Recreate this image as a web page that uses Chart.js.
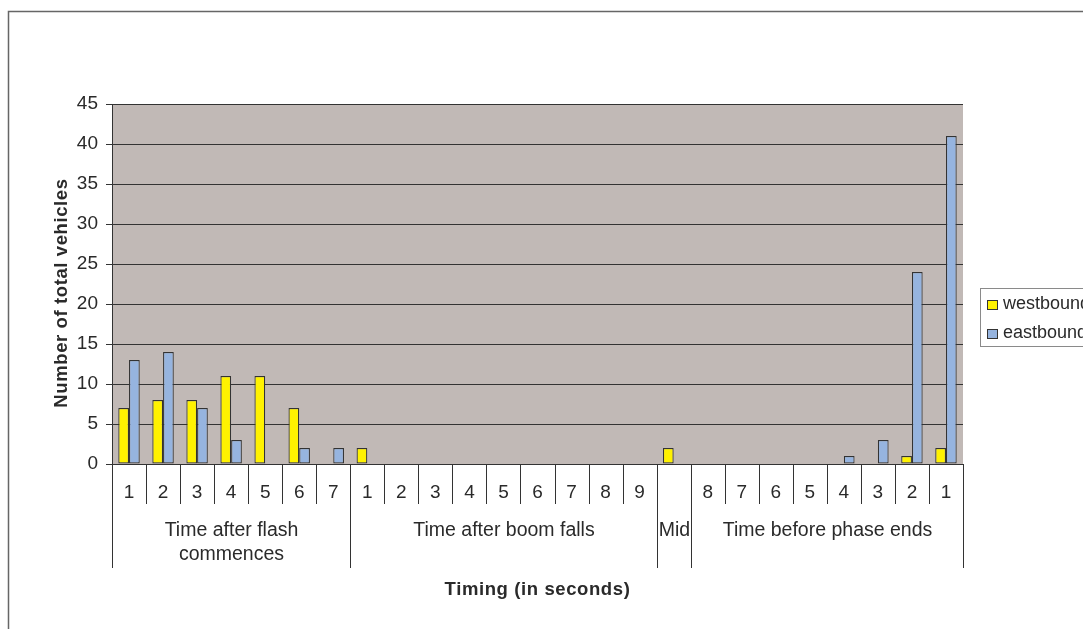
<!DOCTYPE html>
<html>
<head>
<meta charset="utf-8">
<script src="https://cdn.jsdelivr.net/npm/chart.js@4.4.1/dist/chart.umd.min.js"></script>
<style>
  html, body { margin: 0; padding: 0; background: #fff; }
  #wrap { position: relative; width: 1083px; height: 629px; overflow: hidden; }
</style>
</head>
<body>
<div id="wrap"><canvas id="timingChart" width="1083" height="629"></canvas></div>
<script>
// seconds inside each phase; the Mid slot has no number of its own
const tickLabels = ['1', '2', '3', '4', '5', '6', '7',
                    '1', '2', '3', '4', '5', '6', '7', '8', '9',
                    '',
                    '8', '7', '6', '5', '4', '3', '2', '1'];
const groupNames = [['Time after flash', 'commences'], ['Time after boom falls'], ['Mid'], ['Time before phase ends']];
const groupSizes = [7, 9, 1, 8];

const westbound = [7, 8, 8, 11, 11, 7, 0,
                   2, 0, 0, 0, 0, 0, 0, 0, 0,
                   2,
                   0, 0, 0, 0, 0, 0, 1, 2];
const eastbound = [13, 14, 7, 3, 0, 2, 2,
                   0, 0, 0, 0, 0, 0, 0, 0, 0,
                   0,
                   0, 0, 0, 0, 1, 3, 24, 41];

const yMax = 45;
const yStep = 5;

const FONT = '"Liberation Sans", Arial, sans-serif';
const TEXT = '#2a2a2a';
const LINE = '#333';
const PLOT_BG = '#c1b9b6';

// background frame, plot fill, two-level category axis, titles and legend
const excelLook = {
    id: 'excelLook',
    beforeDraw(chart) {
        const { ctx, chartArea: a } = chart;
        ctx.save();
        ctx.strokeStyle = '#666';
        ctx.lineWidth = 1.5;
        ctx.strokeRect(8.5, 11.5, 1300, 1000);
        ctx.fillStyle = PLOT_BG;
        ctx.fillRect(a.left, a.top, a.right - a.left, a.bottom - a.top);
        ctx.restore();
    },
    afterDraw(chart) {
        const { ctx } = chart;
        const x = chart.scales.x;
        const top = x.top;
        const edge = i => Math.round(x.getPixelForValue(i - 0.5)) + 0.5;

        const bounds = [0];
        groupSizes.forEach(n => bounds.push(bounds[bounds.length - 1] + n));

        ctx.save();
        ctx.strokeStyle = LINE;
        ctx.lineWidth = 1;
        for (let i = 0; i <= tickLabels.length; i++) {
            const h = bounds.includes(i) ? 104 : 40;
            ctx.beginPath();
            ctx.moveTo(edge(i), top);
            ctx.lineTo(edge(i), top + h);
            ctx.stroke();
        }

        ctx.fillStyle = TEXT;
        ctx.font = '19px ' + FONT;
        ctx.textAlign = 'center';
        ctx.textBaseline = 'middle';
        tickLabels.forEach((t, i) => {
            ctx.fillText(t, x.getPixelForValue(i), top + 29);
        });

        ctx.font = '19.5px ' + FONT;
        groupNames.forEach((lines, g) => {
            const cx = (edge(bounds[g]) + edge(bounds[g + 1])) / 2;
            lines.forEach((t, k) => ctx.fillText(t, cx, top + 67 + k * 24));
        });

        // axis titles
        ctx.font = 'bold 18.5px ' + FONT;
        ctx.letterSpacing = '0.6px';
        ctx.fillText('Timing (in seconds)', (x.left + x.right) / 2, 590);

        ctx.translate(62, 293);
        ctx.rotate(-Math.PI / 2);
        ctx.fillText('Number of total vehicles', 0, 0);
        ctx.restore();

        // legend, running off the right edge
        ctx.save();
        ctx.fillStyle = '#fff';
        ctx.fillRect(980.5, 288.5, 200, 58);
        ctx.strokeStyle = '#8a8a8a';
        ctx.lineWidth = 1;
        ctx.strokeRect(980.5, 288.5, 200, 58);
        ctx.font = '18px ' + FONT;
        ctx.textBaseline = 'middle';
        chart.data.datasets.forEach((ds, i) => {
            const y = 300.5 + i * 29;
            ctx.fillStyle = ds.backgroundColor;
            ctx.fillRect(987.5, y, 10, 9);
            ctx.strokeStyle = LINE;
            ctx.strokeRect(987.5, y, 10, 9);
            ctx.fillStyle = TEXT;
            ctx.fillText(ds.label, 1003, y + 4);
        });
        ctx.restore();
    }
};

new Chart(document.getElementById('timingChart'), {
    type: 'bar',
    data: {
        labels: tickLabels,
        datasets: [
            {
                label: 'westbound',
                data: westbound,
                backgroundColor: '#fff200',
                borderColor: LINE,
                borderWidth: 1.2,
                borderSkipped: false,
                categoryPercentage: 0.63,
                barPercentage: 1.0
            },
            {
                label: 'eastbound',
                data: eastbound,
                backgroundColor: '#96b4df',
                borderColor: LINE,
                borderWidth: 1.2,
                borderSkipped: false,
                categoryPercentage: 0.63,
                barPercentage: 1.0
            }
        ]
    },
    options: {
        responsive: false,
        animation: false,
        layout: { padding: { top: 104, right: 120, bottom: 0, left: 0 } },
        plugins: {
            legend: { display: false },
            tooltip: { enabled: false }
        },
        scales: {
            x: {
                grid: { display: false },
                border: { display: true, color: LINE, width: 1 },
                ticks: { display: false },
                afterFit: s => { s.height = 165; }
            },
            y: {
                min: 0,
                max: yMax,
                ticks: {
                    stepSize: yStep,
                    padding: 8,
                    color: TEXT,
                    font: { family: FONT, size: 19 }
                },
                grid: { color: LINE, lineWidth: 1, tickLength: 6 },
                border: { display: true, color: LINE, width: 1 },
                afterFit: s => { s.width = 112; }
            }
        }
    },
    plugins: [excelLook]
});
</script>
</body>
</html>
